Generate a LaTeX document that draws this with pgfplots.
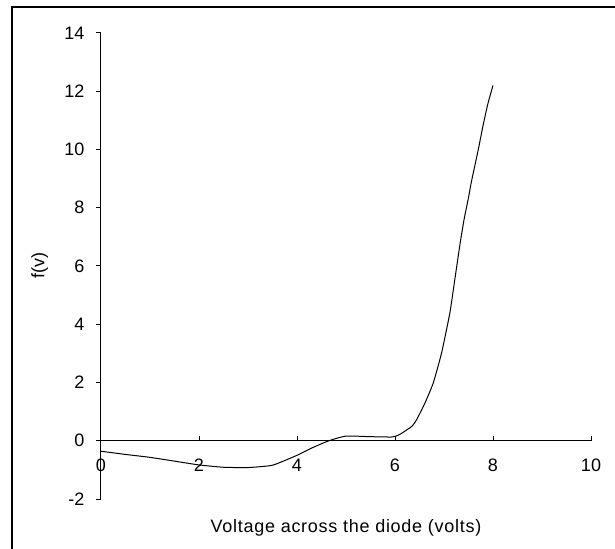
\documentclass[border=0pt]{standalone}
\usepackage{fontspec}
\setmainfont{Liberation Sans}
\usepackage{pgfplots}
\pgfplotsset{compat=1.18}
\begin{document}
\begin{tikzpicture}
\useasboundingbox (-101bp,-50bp) rectangle (514bp,499bp);
\draw[line width=1.3bp] (-89bp,-50bp) -- (-89bp,492bp) -- (514bp,492bp);
\begin{axis}[
  at={(0,0)}, anchor=south west,
  scale only axis, width=490bp, height=466bp,
  xmin=0, xmax=10, ymin=-2, ymax=14,
  axis x line=middle, axis y line=left,
  axis line style={-, line width=1bp},
  hide obscured x ticks=false, hide obscured y ticks=false,
  xtick={0,2,...,10}, ytick={-2,0,...,14},
  xtick align=inside, ytick align=outside,
  major tick length=5bp,
  tick style={line width=1bp, black},
  /pgf/number format/assume math mode=true,
  tick label style={font=\fontsize{18bp}{20bp}\selectfont},
  xticklabel style={anchor=north, yshift=-15bp},
  yticklabel style={anchor=east, xshift=-8bp},
  xlabel={\addfontfeature{LetterSpace=4}Voltage across the diode (volts)},
  xlabel style={at={(axis description cs:0.5,0)}, anchor=north, yshift=-17bp, font=\fontsize{18bp}{20bp}\selectfont},
  ylabel={f(v)},
  ylabel style={at={(axis description cs:-0.125,0.5)}, anchor=center, font=\fontsize{18bp}{20bp}\selectfont},
  clip=false,
]
\addplot[black, line width=1bp, smooth, tension=0.3] coordinates {
(0,-0.36) (0.5,-0.47) (1,-0.57) (1.5,-0.70) (2,-0.83) (2.5,-0.91) (3,-0.92)
(3.5,-0.84) (4,-0.50) (4.3,-0.25) (4.65,0) (5,0.16) (5.5,0.14) (5.95,0.13)
(6.1,0.22) (6.34,0.49) (6.44,0.72) (6.61,1.29) (6.78,1.98) (6.95,3.01)
(7.12,4.39) (7.22,5.53) (7.33,6.79) (7.41,7.6) (7.5,8.35) (7.56,8.9)
(7.7,10.0) (7.8,10.85) (7.9,11.6) (8.0,12.2)
};
\end{axis}
\end{tikzpicture}
\end{document}
